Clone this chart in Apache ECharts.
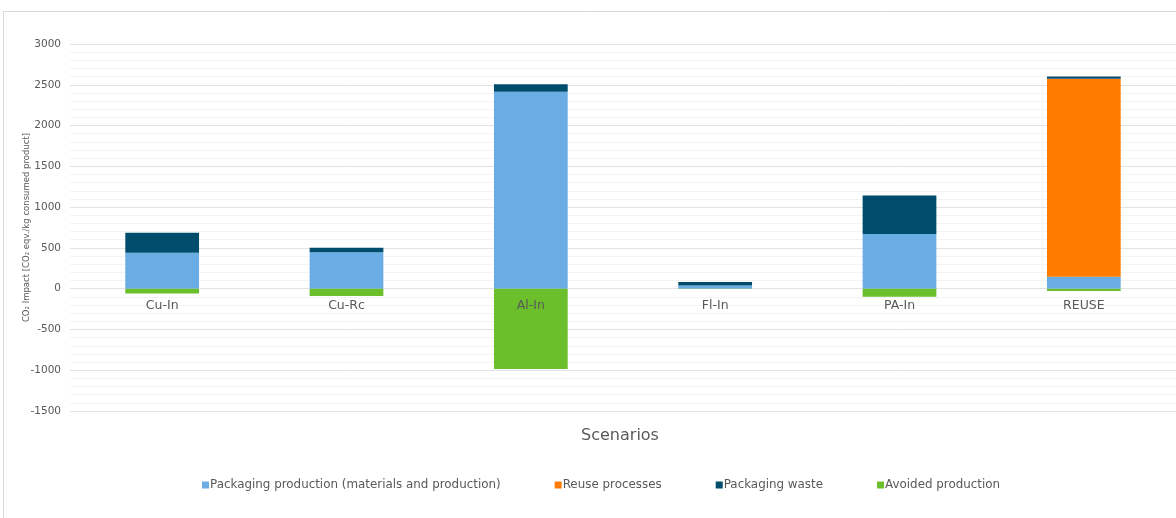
<!DOCTYPE html>
<html><head><meta charset="utf-8">
<script src="https://cdn.jsdelivr.net/npm/echarts@6/dist/echarts.min.js"></script>
<style>html,body{margin:0;padding:0;background:#fff}#c{width:1176px;height:518px}</style>
</head><body><div id="c"></div>
<script>
const categories = ['Cu-In','Cu-Rc','Al-In','Fl-In','PA-In','REUSE'];
const packagingProduction = [441, 445, 2414, 40, 670, 147];
const reuseProcesses = [0, 0, 0, 0, 0, 2427];
const packagingWaste = [245, 57, 94, 42, 473, 28];
const avoidedProduction = [-60, -90, -985, -3, -100, -30];
const seriesNames = ['Packaging production (materials and production)','Reuse processes','Packaging waste','Avoided production'];
const colors = ['#6aace4','#ff7c00','#004c6d','#6abf2a'];

const chart = echarts.init(document.getElementById('c'));
const font = "'DejaVu Sans', Verdana, sans-serif";
function mk(i, data){
  return {name: seriesNames[i], type:'bar', stack:'total', data: data, barWidth:'40%',
    itemStyle:{color: colors[i]}, emphasis:{disabled:true}};
}
const yMin = -1500, yMax = 3000, gridTop = 44, gridBottom = 107;
const plotH = 518 - gridTop - gridBottom;
const zeroOffset = plotH * (0 - yMin) / (yMax - yMin);
chart.setOption({
  animation:false,
  textStyle:{fontFamily:font},
  graphic:[{type:'rect', shape:{x:3.5,y:11.5,width:1180,height:520}, style:{fill:'none', stroke:'#d9d9d9', lineWidth:1}, silent:true}],
  title:{text:'Scenarios', left:615, top:423, textAlign:'center', textStyle:{fontFamily:font, fontSize:16, fontWeight:'normal', color:'#595959'}},
  legend:{bottom:22, left:197, itemWidth:7, itemHeight:7, itemGap:54, icon:'rect',
    textStyle:{fontFamily:font, fontSize:11.9, color:'#595959', padding:[0,0,0,-4]}, data:seriesNames},
  grid:{left:70, right:-4, top:gridTop, bottom:gridBottom, containLabel:false},
  xAxis:{type:'category', data:categories, position:'bottom', offset:-zeroOffset, z:10,
    axisLine:{show:false, onZero:false}, axisTick:{show:false},
    axisLabel:{color:'#595959', fontSize:12.5, fontFamily:font, margin:11}},
  yAxis:{type:'value', min:yMin, max:yMax, interval:500,
    name:'CO\u2082 Impact [CO\u2082 eqv./kg consumed product]', nameLocation:'middle', nameGap:39, nameMoveOverlap:false,
    nameTextStyle:{fontFamily:font, fontSize:8.5, color:'#595959'},
    axisLabel:{color:'#595959', fontSize:10.5, fontFamily:font, margin:9, formatter:(v)=>String(v)},
    axisLine:{show:false}, axisTick:{show:false},
    splitLine:{lineStyle:{color:'#e3e3e3'}},
    minorTick:{show:false, splitNumber:5},
    minorSplitLine:{show:true, lineStyle:{color:'#f3f3f3'}}},
  series:[
    mk(0, packagingProduction),
    mk(1, reuseProcesses),
    mk(2, packagingWaste),
    mk(3, avoidedProduction)
  ]
});
</script></body></html>
